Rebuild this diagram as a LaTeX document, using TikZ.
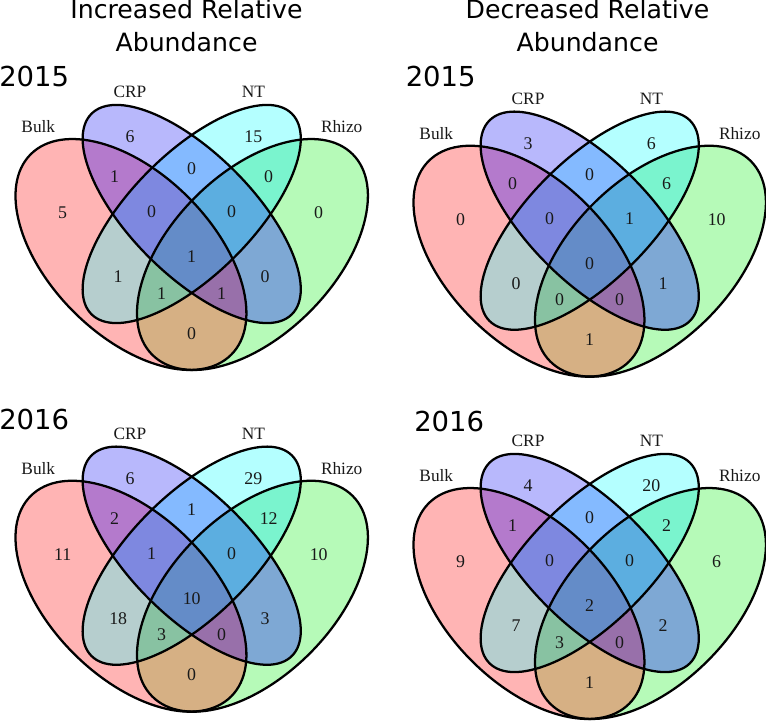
\documentclass[tikz,border=0pt]{standalone}
\usepackage{fontspec}
\setmainfont{Liberation Serif}
\newfontfamily\headfont{DejaVu Sans}

% region colours
\definecolor{cB}{RGB}{255,180,180}
\definecolor{cC}{RGB}{184,184,252}
\definecolor{cN}{RGB}{180,255,255}
\definecolor{cR}{RGB}{182,250,184}
\definecolor{cBC}{RGB}{180,122,204}
\definecolor{cCN}{RGB}{132,186,255}
\definecolor{cNR}{RGB}{122,244,206}
\definecolor{cBN}{RGB}{182,206,206}
\definecolor{cCR}{RGB}{126,168,212}
\definecolor{cBR}{RGB}{214,176,132}
\definecolor{cBCN}{RGB}{126,136,224}
\definecolor{cCNR}{RGB}{92,174,224}
\definecolor{cBNR}{RGB}{136,194,162}
\definecolor{cBCR}{RGB}{152,112,170}
\definecolor{cAll}{RGB}{100,140,200}

\tikzset{
  vline/.style={line width=1.7pt, black},
  cnt/.style={inner sep=0pt, text=black!90, font=\fontsize{13.4}{15}\selectfont},
  setlab/.style={inner sep=0pt, text=black!90, font=\fontsize{13}{15}\selectfont},
  yearlab/.style={anchor=base west, inner sep=0pt, font=\headfont\fontsize{20.6}{24}\selectfont},
  headlab/.style={anchor=base, inner sep=0pt, font=\headfont\fontsize{18.9}{22}\selectfont},
}

% the four ellipses
\newcommand\elBulk{(-60.75,-40.5) circle [x radius=141.75, y radius=81, rotate=135]}
\newcommand\elCRP{(0,0) circle [x radius=141.75, y radius=60.75, rotate=135]}
\newcommand\elNT{(0,0) circle [x radius=141.75, y radius=60.75, rotate=45]}
\newcommand\elRhizo{(60.75,-40.5) circle [x radius=141.75, y radius=81, rotate=45]}

% one quad venn: fills, outlines, set names and count spots
\newcommand\vennbase{%
  \fill[cB] \elBulk; \fill[cC] \elCRP; \fill[cN] \elNT; \fill[cR] \elRhizo;
  \begin{scope}\clip \elBulk;
    \fill[cBC] \elCRP; \fill[cBN] \elNT; \fill[cBR] \elRhizo;
  \end{scope}
  \begin{scope}\clip \elCRP;
    \fill[cCN] \elNT; \fill[cCR] \elRhizo;
  \end{scope}
  \begin{scope}\clip \elNT; \fill[cNR] \elRhizo; \end{scope}
  \begin{scope}\clip \elBulk; \clip \elCRP;
    \fill[cBCN] \elNT; \fill[cBCR] \elRhizo;
  \end{scope}
  \begin{scope}\clip \elBulk; \clip \elNT; \fill[cBNR] \elRhizo; \end{scope}
  \begin{scope}\clip \elCRP; \clip \elNT; \fill[cCNR] \elRhizo; \end{scope}
  \begin{scope}\clip \elBulk; \clip \elCRP; \clip \elNT; \fill[cAll] \elRhizo; \end{scope}
  \draw[vline] \elBulk; \draw[vline] \elCRP; \draw[vline] \elNT; \draw[vline] \elRhizo;
  % set names
  \node[setlab] (bulk) at (-153.4,87.3) {Bulk};
  \node[setlab] (crp) at (-61.7,122.3) {CRP};
  \node[setlab] (nt) at (61.7,122.3) {NT};
  \node[setlab] (rhizo) at (150,87.3) {Rhizo};
  % count spots
  \coordinate (pB) at (-129,1);     \coordinate (pC) at (-61.7,77.3);
  \coordinate (pN) at (61.7,77.3);  \coordinate (pR) at (127,1);
  \coordinate (pBC) at (-77,37.3);  \coordinate (pCN) at (0,45.7);
  \coordinate (pNR) at (77,37.3);   \coordinate (pBCN) at (-40,2.3);
  \coordinate (pCNR) at (40,2.3);   \coordinate (pBCNR) at (0,-42.7);
  \coordinate (pBN) at (-73.5,-62.7); \coordinate (pCR) at (73.5,-62.7);
  \coordinate (pBNR) at (-30,-79.3);  \coordinate (pBCR) at (30,-79.3);
  \coordinate (pBR) at (0,-119.3);
}

\begin{document}
\begin{tikzpicture}[x=0.75pt, y=0.75pt]
\useasboundingbox (0,0) rectangle (766,720);

% column titles
\node[headlab] (inc1) at (186.5,701.7) {Increased Relative};
\node[headlab] (inc2) at (186.5,668.3) {Abundance};
\node[headlab] (dec1) at (587.5,701.7) {Decreased Relative};
\node[headlab] (dec2) at (587.5,668.3) {Abundance};

% years
\node[yearlab] (yinc15) at (-1,633.3) {2015};
\node[yearlab] (ydec15) at (405.5,633.3) {2015};
\node[yearlab] (yinc16) at (-1,290) {2016};
\node[yearlab] (ydec16) at (414,288.3) {2016};

% increased, 2015
\begin{scope}[shift={(191.7,506)}, name prefix=inc15-]
  \vennbase
  \foreach \reg/\val in {B/5,C/6,N/15,R/0,BC/1,CN/0,NR/0,BCN/0,CNR/0,BCNR/1,BN/1,CR/0,BNR/1,BCR/1,BR/0}
    \node[cnt] (n\reg) at (p\reg) {\val};
\end{scope}

% decreased, 2015
\begin{scope}[shift={(589.7,499.3)}, name prefix=dec15-]
  \vennbase
  \foreach \reg/\val in {B/0,C/3,N/6,R/10,BC/0,CN/0,NR/6,BCN/0,CNR/1,BCNR/0,BN/0,CR/1,BNR/0,BCR/0,BR/1}
    \node[cnt] (n\reg) at (p\reg) {\val};
\end{scope}

% increased, 2016
\begin{scope}[shift={(191.7,164.3)}, name prefix=inc16-]
  \vennbase
  \foreach \reg/\val in {B/11,C/6,N/29,R/10,BC/2,CN/1,NR/12,BCN/1,CNR/0,BCNR/10,BN/18,CR/3,BNR/3,BCR/0,BR/0}
    \node[cnt] (n\reg) at (p\reg) {\val};
\end{scope}

% decreased, 2016
\begin{scope}[shift={(589.7,157)}, name prefix=dec16-]
  \vennbase
  \foreach \reg/\val in {B/9,C/4,N/20,R/6,BC/1,CN/0,NR/2,BCN/0,CNR/0,BCNR/2,BN/7,CR/2,BNR/3,BCR/0,BR/1}
    \node[cnt] (n\reg) at (p\reg) {\val};
\end{scope}

\end{tikzpicture}
\end{document}
